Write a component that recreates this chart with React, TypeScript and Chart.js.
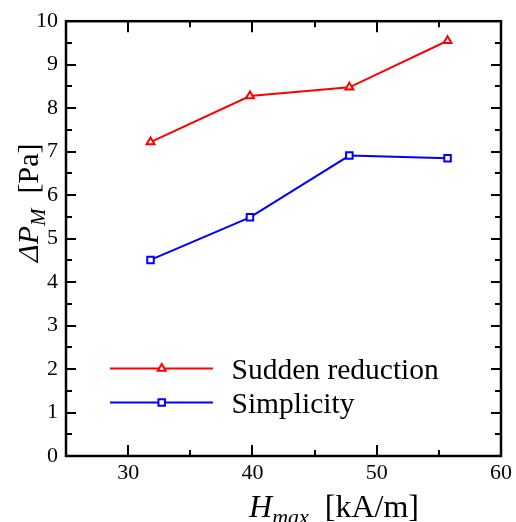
import React, { useEffect, useRef } from "react";
import { Chart, registerables } from "chart.js";

Chart.register(...registerables);

// Maximum field strength H_max [kA/m]
const fieldStrength = [31.8, 39.8, 47.8, 55.7];
// Pressure difference ΔP_M [Pa] for each configuration
const suddenReduction = [7.22, 8.28, 8.48, 9.55];
const simplicity = [4.51, 5.49, 6.91, 6.85];

const seriesNames = ["Sudden reduction", "Simplicity"];
const xTickValues = [30, 40, 50, 60];
const yTickValues = [0, 1, 2, 3, 4, 5, 6, 7, 8, 9, 10];

const SERIF = '"Liberation Serif", "Times New Roman", serif';
const RED = "#ff0000";
const BLUE = "#0000ff";

type Seg = { text: string; italic?: boolean; size: number; dy?: number };

function drawRich(ctx: CanvasRenderingContext2D, segs: Seg[], x: number, y: number) {
  let cx = x;
  for (const s of segs) {
    ctx.font = `${s.italic ? "italic " : ""}${s.size}px ${SERIF}`;
    ctx.fillText(s.text, cx, y + (s.dy || 0));
    cx += ctx.measureText(s.text).width;
  }
}

function richWidth(ctx: CanvasRenderingContext2D, segs: Seg[]) {
  let w = 0;
  for (const s of segs) {
    ctx.font = `${s.italic ? "italic " : ""}${s.size}px ${SERIF}`;
    w += ctx.measureText(s.text).width;
  }
  return w;
}

function marker(ctx: CanvasRenderingContext2D, style: string, x: number, y: number, r: number) {
  ctx.beginPath();
  if (style === "triangle") {
    const a = (2 * Math.PI) / 3;
    ctx.moveTo(x, y - r);
    ctx.lineTo(x + Math.sin(a) * r, y - Math.cos(a) * r);
    ctx.lineTo(x + Math.sin(2 * a) * r, y - Math.cos(2 * a) * r);
    ctx.closePath();
  } else {
    const s = Math.SQRT1_2 * r;
    ctx.rect(x - s, y - s, 2 * s, 2 * s);
  }
  ctx.fillStyle = "#ffffff";
  ctx.fill();
  ctx.stroke();
}

const midpoints = (v: number[]) => v.slice(0, -1).map((a, i) => (a + v[i + 1]) / 2);

// Frame with inward major/minor ticks on all four sides
const framePlugin = {
  id: "frame",
  afterDraw(chart: any) {
    const { ctx, chartArea: a, scales } = chart;
    const xs = scales.x;
    const ys = scales.y;
    ctx.save();
    ctx.strokeStyle = "#000";
    ctx.lineCap = "butt";
    ctx.lineWidth = 2;
    const xMinor = midpoints([20, ...xTickValues]).filter((v) => v > xs.min && v < xs.max);
    const yMinor = midpoints(yTickValues);
    const xtick = (vals: number[], len: number) => {
      for (const v of vals) {
        const px = Math.round(xs.getPixelForValue(v));
        if (px <= a.left + 1 || px >= a.right - 1) continue;
        ctx.beginPath();
        ctx.moveTo(px, a.bottom);
        ctx.lineTo(px, a.bottom - len);
        ctx.moveTo(px, a.top);
        ctx.lineTo(px, a.top + len);
        ctx.stroke();
      }
    };
    const ytick = (vals: number[], len: number) => {
      for (const v of vals) {
        const py = Math.round(ys.getPixelForValue(v));
        if (py <= a.top + 1 || py >= a.bottom - 1) continue;
        ctx.beginPath();
        ctx.moveTo(a.left, py);
        ctx.lineTo(a.left + len, py);
        ctx.moveTo(a.right, py);
        ctx.lineTo(a.right - len, py);
        ctx.stroke();
      }
    };
    xtick(xTickValues, 11);
    xtick(xMinor, 6);
    ytick(yTickValues, 10);
    ytick(yMinor, 6);
    ctx.lineWidth = 2.5;
    ctx.strokeRect(a.left, a.top, a.right - a.left, a.bottom - a.top);
    ctx.restore();
  },
};

// Axis titles with italic symbols and subscripts
const titlePlugin = {
  id: "titles",
  afterDraw(chart: any) {
    const { ctx, chartArea: a } = chart;
    ctx.save();
    ctx.fillStyle = "#000";
    ctx.textBaseline = "alphabetic";
    ctx.textAlign = "left";

    const xTitle: Seg[] = [
      { text: "H", italic: true, size: 32 },
      { text: "max", italic: true, size: 22, dy: 7 },
      { text: "  [kA/m]", size: 32 },
    ];
    const xw = richWidth(ctx, xTitle);
    drawRich(ctx, xTitle, 334 - xw / 2, 517);

    const yTitle: Seg[] = [
      { text: "ΔP", italic: true, size: 30 },
      { text: "M", italic: true, size: 21, dy: 7 },
      { text: "  [Pa]", size: 30 },
    ];
    const yw = richWidth(ctx, yTitle);
    ctx.translate(37.5, a.top + 181.5);
    ctx.rotate(-Math.PI / 2);
    drawRich(ctx, yTitle, -yw / 2, 0);
    ctx.restore();
  },
};

// Legend inside the plot area: line + marker + label
const legendPlugin = {
  id: "insideLegend",
  afterDraw(chart: any) {
    const { ctx, chartArea: a } = chart;
    const rows = [
      { name: seriesNames[0], color: RED, style: "triangle", dy: 347.3 },
      { name: seriesNames[1], color: BLUE, style: "rect", dy: 381.3 },
    ];
    ctx.save();
    for (const r of rows) {
      const y = a.top + r.dy;
      ctx.strokeStyle = r.color;
      ctx.lineWidth = 2;
      ctx.beginPath();
      ctx.moveTo(a.left + 44, y);
      ctx.lineTo(a.left + 147, y);
      ctx.stroke();
      marker(ctx, r.style, a.left + 95.7, y, 4.6);
      ctx.fillStyle = "#000";
      ctx.font = `29.5px ${SERIF}`;
      ctx.textBaseline = "alphabetic";
      ctx.textAlign = "left";
      ctx.fillText(r.name, a.left + 165.5, y + 10.5);
    }
    ctx.restore();
  },
};

export default function App() {
  const ref = useRef<HTMLCanvasElement>(null);

  useEffect(() => {
    document.body.style.margin = "0";
    const canvas = ref.current;
    if (!canvas) return;

    const toPoints = (ys: number[]) => fieldStrength.map((x, i) => ({ x, y: ys[i] }));

    const chart = new Chart(canvas, {
      type: "line",
      data: {
        datasets: [
          {
            label: seriesNames[0],
            data: toPoints(suddenReduction),
            borderColor: RED,
            backgroundColor: "#ffffff",
            borderWidth: 2,
            pointStyle: "triangle",
            pointRadius: 4.6,
            pointBorderWidth: 2,
            pointBorderColor: RED,
            pointBackgroundColor: "#ffffff",
            tension: 0,
          },
          {
            label: seriesNames[1],
            data: toPoints(simplicity),
            borderColor: BLUE,
            backgroundColor: "#ffffff",
            borderWidth: 2,
            pointStyle: "rect",
            pointRadius: 4.6,
            pointBorderWidth: 2,
            pointBorderColor: BLUE,
            pointBackgroundColor: "#ffffff",
            tension: 0,
          },
        ],
      },
      options: {
        responsive: false,
        animation: false,
        devicePixelRatio: 1,
        layout: { padding: { top: 21, right: 13, left: 0, bottom: 0 } },
        plugins: {
          legend: { display: false },
          tooltip: { enabled: false },
        },
        scales: {
          x: {
            type: "linear",
            position: "bottom",
            min: 25,
            max: 60,
            grid: { display: false, drawTicks: false },
            border: { display: false },
            ticks: {
              color: "#000",
              font: { family: SERIF, size: 22 },
              padding: 4,
              maxRotation: 0,
              autoSkip: false,
              callback: (v: any) => String(v),
            },
            afterBuildTicks: (s: any) => {
              s.ticks = xTickValues.map((value) => ({ value }));
            },
            afterFit: (s: any) => {
              s.height = 66;
            },
          },
          y: {
            type: "linear",
            position: "left",
            min: 0,
            max: 10,
            grid: { display: false, drawTicks: false },
            border: { display: false },
            ticks: {
              color: "#000",
              font: { family: SERIF, size: 22 },
              padding: 8,
              autoSkip: false,
              callback: (v: any) => String(v),
            },
            afterBuildTicks: (s: any) => {
              s.ticks = yTickValues.map((value) => ({ value }));
            },
            afterFit: (s: any) => {
              s.width = 66;
            },
          },
        },
      },
      plugins: [framePlugin, titlePlugin, legendPlugin],
    } as any);

    return () => chart.destroy();
  }, []);

  return (
    <canvas
      ref={ref}
      width={516}
      height={522}
      style={{ display: "block", width: 516, height: 522 }}
    />
  );
}
